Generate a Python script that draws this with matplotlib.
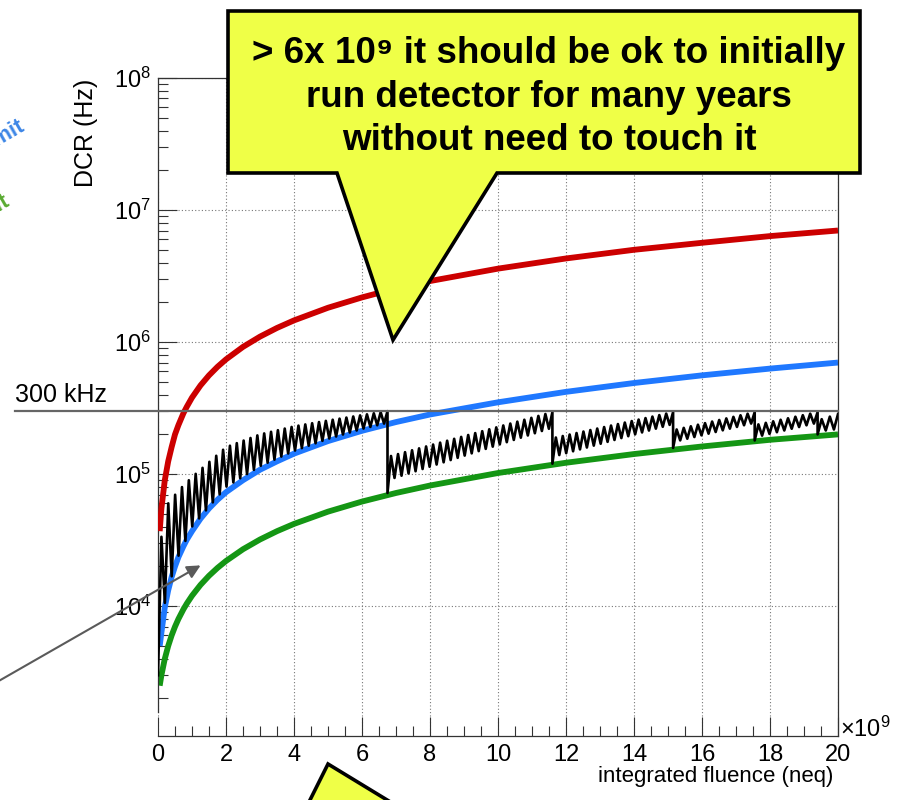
import numpy as np
import matplotlib
matplotlib.use("Agg")
import matplotlib.pyplot as plt
import matplotlib.transforms as mtransforms
from matplotlib.patches import Polygon
from matplotlib.ticker import MultipleLocator, LogLocator, NullFormatter

plt.rcParams["font.family"] = ["Liberation Sans", "DejaVu Sans"]
plt.rcParams["mathtext.fontset"] = "custom"
plt.rcParams["mathtext.rm"] = "Liberation Sans"
plt.rcParams["mathtext.it"] = "Liberation Sans:italic"
plt.rcParams["mathtext.bf"] = "Liberation Sans:bold"

# integrated fluence in units of 1e9 neq
fluence = [0.05, 0.1, 0.2, 0.3, 0.4, 0.5, 0.6, 0.75, 0.85, 1, 1.25, 1.5, 1.75, 2, 2.5, 3,
           3.5, 4, 5, 6, 7, 8, 10, 12, 14, 16, 18, 20]
dcr_red = [3.7e4, 5.5e4, 9.0e4, 1.25e5, 1.6e5, 2.0e5, 2.35e5, 2.9e5, 3.25e5, 3.8e5, 4.7e5,
           5.6e5, 6.5e5, 7.4e5, 9.2e5, 1.1e6, 1.28e6, 1.46e6, 1.82e6, 2.18e6, 2.55e6, 2.9e6,
           3.6e6, 4.3e6, 5.0e6, 5.65e6, 6.35e6, 7.0e6]
dcr_blue = [5.0e3, 6.3e3, 9.8e3, 1.32e4, 1.66e4, 2.0e4, 2.35e4, 2.85e4, 3.2e4, 3.7e4, 4.6e4,
            5.5e4, 6.4e4, 7.3e4, 9.0e4, 1.08e5, 1.25e5, 1.43e5, 1.78e5, 2.13e5, 2.48e5,
            2.83e5, 3.5e5, 4.2e5, 4.9e5, 5.6e5, 6.3e5, 7.0e5]
dcr_green = [2.5e3, 3.0e3, 4.0e3, 5.0e3, 6.0e3, 7.0e3, 8.0e3, 9.5e3, 1.05e4, 1.2e4, 1.45e4,
             1.7e4, 1.95e4, 2.2e4, 2.7e4, 3.2e4, 3.7e4, 4.2e4, 5.2e4, 6.2e4, 7.2e4, 8.2e4,
             1.02e5, 1.22e5, 1.42e5, 1.62e5, 1.82e5, 2.0e5]

# annealing cycles: segment edges, value right after each reset, teeth per segment
anneal_edges = [0.0, 6.75, 11.6, 15.15, 17.55, 19.4, 20.0]
anneal_floor = [3.0e3, 7.2e4, 1.2e5, 1.58e5, 1.8e5, 2.0e5]
teeth_count = [34, 24, 18, 12, 9, 3]

# first cycle envelopes
cycle1_x = [0.0, 0.3, 0.6, 1, 2, 3, 4, 5, 6, 6.75]
cycle1_peak = [2.5e4, 6.0e4, 7.5e4, 9.5e4, 1.6e5, 2.0e5, 2.3e5, 2.55e5, 2.8e5, 3.0e5]
cycle1_valley = [6.0e3, 1.4e4, 2.4e4, 4.0e4, 8.0e4, 1.15e5, 1.5e5, 1.85e5, 2.2e5, 2.45e5]

# later cycles: start / end of peak and valley envelopes
peak_start = [1.35e5, 1.87e5, 2.15e5, 2.35e5, 2.55e5]
peak_end = [2.95e5, 2.95e5, 2.95e5, 2.95e5, 2.85e5]
valley_start = [9.0e4, 1.35e5, 1.75e5, 1.9e5, 2.1e5]
valley_end = [2.25e5, 2.4e5, 2.45e5, 2.45e5, 2.2e5]

W, H = 904, 800


def px(x, y):
    return (x / W, 1 - y / H)


def cycle(x0, x1, floor, peak_env, valley_env, n):
    d = (x1 - x0) / (2 * n - 1)
    xs, ys = [x0], [floor]
    for k in range(2 * n - 1):
        x = x0 + (k + 1) * d
        xs.append(x)
        ys.append(peak_env(x) if k % 2 == 0 else valley_env(x))
    return xs, ys


saw_x, saw_y = [], []
for i in range(len(teeth_count)):
    x0, x1 = anneal_edges[i], anneal_edges[i + 1]
    if i == 0:
        pk = lambda x: 10 ** np.interp(x, cycle1_x, np.log10(cycle1_peak))
        vl = lambda x: 10 ** np.interp(x, cycle1_x, np.log10(cycle1_valley))
    else:
        j = i - 1
        pk = lambda x, a=x0, b=x1, j=j: 10 ** np.interp(x, [a, b], np.log10([peak_start[j], peak_end[j]]))
        vl = lambda x, a=x0, b=x1, j=j: 10 ** np.interp(x, [a, b], np.log10([valley_start[j], valley_end[j]]))
    xs, ys = cycle(x0, x1, anneal_floor[i], pk, vl, teeth_count[i])
    saw_x += xs
    saw_y += ys

fig = plt.figure(figsize=(W / 100, H / 100), dpi=100)
ax = fig.add_axes([158 / W, 1 - 736 / H, 680 / W, 658 / H])

ax.plot(fluence, dcr_green, color="#149614", lw=4.2, zorder=2, solid_capstyle="butt")
ax.plot(fluence, dcr_blue, color="#1f78ff", lw=4.2, zorder=2, solid_capstyle="butt")
ax.plot(saw_x, saw_y, color="black", lw=1.9, zorder=3)
ax.plot(fluence, dcr_red, color="#cc0000", lw=4.2, zorder=4, solid_capstyle="butt")

# 300 kHz threshold, runs past the left edge of the frame
trans = mtransforms.blended_transform_factory(ax.transAxes, ax.transData)
ax.plot([-143 / 680, 1], [3e5, 3e5], transform=trans, clip_on=False,
        color="#666666", lw=1.6, zorder=5)

ax.set_yscale("log")
ax.set_xlim(0, 20)
ax.set_ylim(1.04e3, 1e8)
ax.xaxis.set_major_locator(MultipleLocator(2))
ax.xaxis.set_minor_locator(MultipleLocator(0.5))
ax.yaxis.set_major_locator(LogLocator(base=10, numticks=20))
ax.yaxis.set_minor_locator(LogLocator(base=10, subs=np.arange(2, 10), numticks=20))
ax.yaxis.set_minor_formatter(NullFormatter())
ax.set_xticks(range(0, 21, 2))
ax.set_xticklabels([str(v) for v in range(0, 21, 2)])

ax.tick_params(which="both", direction="in", width=0.8, color="#333333", labelsize=17)
ax.tick_params(which="major", length=14)
ax.tick_params(which="minor", length=7)
ax.tick_params(axis="x", pad=6)
ax.tick_params(axis="y", pad=5)
ax.grid(True, which="major", linestyle=(0, (1, 2)), color="#777777", lw=0.8, zorder=0)

for side in ["left", "right", "top", "bottom"]:
    ax.spines[side].set_color("#333333")
    ax.spines[side].set_linewidth(0.9)
ax.spines["left"].set_bounds(1.57e3, 1e8)

fig.text(86 / W, 1 - 133 / H, "DCR (Hz)", rotation=90, ha="center", va="center", fontsize=18)
fig.text(833 / W, 1 - 782 / H, "integrated fluence (neq)", ha="right", va="baseline", fontsize=16)
fig.text(840 / W, 1 - 737 / H, r"$\times\mathdefault{10^{9}}$", ha="left", va="baseline", fontsize=17)
fig.text(15 / W, 1 - 402 / H, "300 kHz", ha="left", va="baseline", fontsize=18)

# labels cut off at the left edge
fig.text(26 / W, 1 - 129 / H, "limit", color="#3d86e6", fontsize=16, fontweight="bold",
         rotation=30, ha="right", va="baseline", rotation_mode="anchor")
fig.text(11 / W, 1 - 204 / H, "limit", color="#5aab32", fontsize=16, fontweight="bold",
         rotation=30, ha="right", va="baseline", rotation_mode="anchor")

ax.annotate("", xy=px(203, 564), xycoords="figure fraction",
            xytext=px(-10, 686), textcoords="figure fraction",
            arrowprops=dict(arrowstyle="-|>", color="#5a5a5a", lw=1.5, mutation_scale=20),
            annotation_clip=False)

# callouts
box = [(228, 11), (860, 11), (860, 173), (497, 173), (393, 340), (337, 173), (228, 173)]
fig.add_artist(Polygon([px(*p) for p in box], closed=True, transform=fig.transFigure,
                       facecolor="#efff47", edgecolor="black", lw=2.6, zorder=10))
lines = ["> 6x 10⁹ it should be ok to initially", "run detector for many years",
         "without need to touch it"]
for text, base in zip(lines, [63, 107, 150]):
    fig.text(549 / W, 1 - base / H, text, ha="center", va="baseline", fontsize=26.5,
             fontweight="bold", zorder=11)

tip = [(328, 764), (420, 820), (300, 820)]
fig.add_artist(Polygon([px(*p) for p in tip], closed=True, transform=fig.transFigure,
                       facecolor="#efff47", edgecolor="black", lw=2.6, zorder=10))

fig.savefig("out.png", dpi=100)
